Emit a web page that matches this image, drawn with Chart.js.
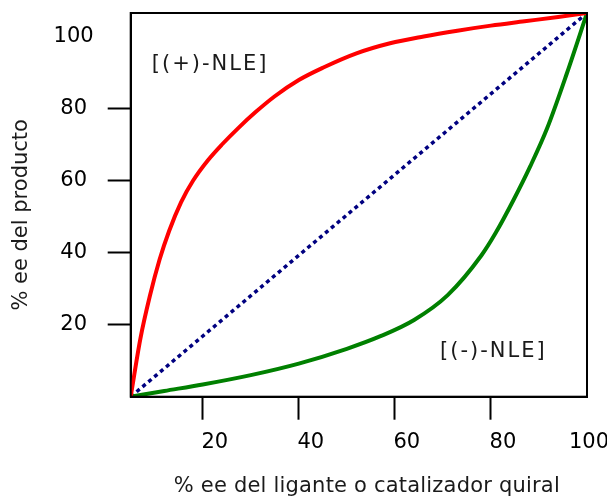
<!DOCTYPE html>
<html lang="es">
<head>
<meta charset="UTF-8">
<title>Efecto no lineal</title>
<script src="https://cdn.jsdelivr.net/npm/chart.js@4.4.1/dist/chart.umd.min.js"></script>
<style>
  html, body { margin: 0; padding: 0; background: #fff; }
  #wrap { width: 607px; height: 503px; }
</style>
</head>
<body>
<div id="wrap"><canvas id="nleChart" width="607" height="503"></canvas></div>
<script>
// axis extents as seen in the picture
const xMin = 5, xMax = 100;
const yMin = 0, yMax = 106.5;
const xTickVals = [20, 40, 60, 80, 100];
const yTickVals = [20, 40, 60, 80, 100];

const xTitle = '% ee del ligante o catalizador quiral';
const yTitle = '% ee del producto';

// (+)-NLE curve
const posX = [5, 7, 9, 11, 13, 15.5, 18, 21, 24, 27.5, 31, 35, 40, 45, 52, 59, 66, 73, 80, 87, 94, 100];
const posY = [0, 16, 28, 38, 46, 54, 60, 65.5, 70, 74.7, 79, 83.4, 87.9, 91.3, 95.3, 98.1, 100, 101.6, 103, 104.2, 105.4, 106.5];

// (-)-NLE curve
const negX = [5, 12, 20, 30, 40, 50, 57, 64, 71, 78, 81, 84.7, 88.2, 91.7, 95.8, 100];
const negY = [0, 1.6, 3.4, 6.0, 9.2, 13.3, 16.8, 21.3, 28.2, 39.2, 45.5, 54.6, 64.0, 74.5, 89.7, 106.5];

// linear (no NLE) reference
const linX = [5, 100];
const linY = [0, 106.5];

const labelText = ['[(+)-NLE]', '[(-)-NLE]'];
const labelX = [9.4, 69.4];
const labelY = [92.1, 12.5];

const pts = (xs, ys) => xs.map((x, i) => ({ x: x, y: ys[i] }));
const FONT = "'DejaVu Sans', Verdana, sans-serif";

// box around the plot, x tick labels, text labels and axis titles
const framePlugin = {
  id: 'frame',
  afterDraw(chart) {
    const { ctx, chartArea: a, scales } = chart;
    ctx.save();
    ctx.strokeStyle = '#000';
    ctx.lineWidth = 2;
    ctx.strokeRect(a.left, a.top, a.right - a.left, a.bottom - a.top);

    ctx.font = '21px ' + FONT;
    ctx.textBaseline = 'middle';
    ctx.textAlign = 'center';

    // x tick labels sit a little right of their ticks, the last one is kept in the window
    ctx.fillStyle = '#000';
    xTickVals.forEach(v => {
      const t = String(v);
      const w = ctx.measureText(t).width;
      const px = Math.min(scales.x.getPixelForValue(v) + 12, chart.width + 2 - w / 2);
      ctx.fillText(t, px, a.bottom + 46);
    });

    ctx.fillStyle = '#1a1a1a';
    ctx.letterSpacing = '2px';
    ctx.textAlign = 'left';
    labelText.forEach((t, i) => {
      ctx.fillText(t, scales.x.getPixelForValue(labelX[i]), scales.y.getPixelForValue(labelY[i]));
    });

    ctx.letterSpacing = '0.2px';
    ctx.textAlign = 'center';
    ctx.fillText(xTitle, (a.left + a.right) / 2 + 8, chart.height - 16);
    ctx.translate(22, (a.top + a.bottom) / 2 + 10);
    ctx.rotate(-Math.PI / 2);
    ctx.letterSpacing = '0px';
    ctx.fillText(yTitle, 0, 0);
    ctx.restore();
  }
};

const tickCol = (c) => (c.tick && c.tick.value === 100 ? 'rgba(0,0,0,0)' : '#000');

new Chart(document.getElementById('nleChart'), {
  type: 'line',
  data: {
    datasets: [{
      data: pts(posX, posY),
      borderColor: '#ff0000',
      borderWidth: 4,
      cubicInterpolationMode: 'monotone'
    }, {
      data: pts(negX, negY),
      borderColor: '#008000',
      borderWidth: 4,
      cubicInterpolationMode: 'monotone'
    }, {
      data: pts(linX, linY),
      borderColor: '#000080',
      borderWidth: 3.5,
      borderDash: [4, 3.7]
    }]
  },
  options: {
    responsive: false,
    animation: false,
    events: [],
    layout: { padding: { top: 13, right: 20, left: 0, bottom: 0 } },
    elements: { point: { radius: 0 }, line: { fill: false } },
    plugins: { legend: { display: false }, tooltip: { enabled: false } },
    scales: {
      x: {
        type: 'linear',
        min: xMin,
        max: xMax,
        afterBuildTicks: (s) => { s.ticks = xTickVals.map(v => ({ value: v })); },
        afterFit: (s) => {
          s.height = 106.3;
          s.paddingLeft = 0; s.paddingRight = 0;
        },
        border: { display: true, color: '#000', width: 2 },
        grid: { drawOnChartArea: false, tickLength: 23, tickWidth: 2, tickColor: tickCol },
        ticks: { display: false }
      },
      y: {
        type: 'linear',
        min: yMin,
        max: yMax,
        afterBuildTicks: (s) => { s.ticks = yTickVals.map(v => ({ value: v })); },
        afterFit: (s) => {
          s.width = 130.7;
          s.paddingTop = 0; s.paddingBottom = 0;
        },
        border: { display: true, color: '#000', width: 2 },
        grid: { drawOnChartArea: false, tickLength: 23, tickWidth: 2, tickColor: tickCol },
        ticks: {
          padding: 14,
          crossAlign: 'center',
          color: '#000',
          font: { family: FONT, size: 21 }
        }
      }
    }
  },
  plugins: [framePlugin]
});
</script>
</body>
</html>
